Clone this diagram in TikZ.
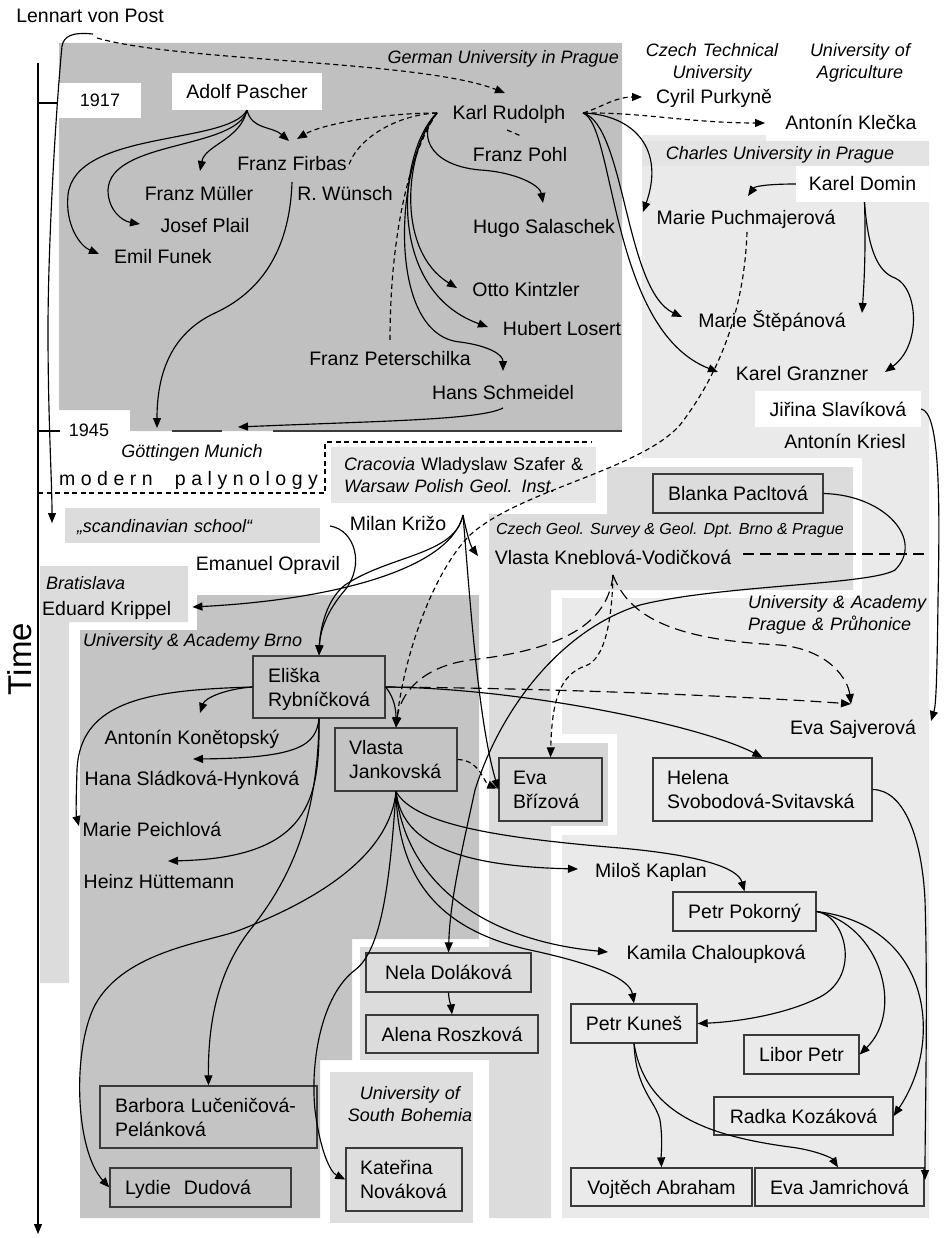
\documentclass[tikz,border=0pt]{standalone}
\usepackage{fontspec}
\setmainfont{Liberation Sans}
\usetikzlibrary{arrows.meta,calc}
\definecolor{gA}{HTML}{C0C0C0}
\definecolor{gD}{HTML}{C4C4C4}
\definecolor{gC}{HTML}{DCDCDC}
\definecolor{gB}{HTML}{EAEAEA}
\definecolor{gBand}{HTML}{E3E3E3}
\definecolor{gCr}{HTML}{E6E6E6}
\definecolor{gS}{HTML}{DEDEDE}
\definecolor{gE}{HTML}{D6D6D6}
\definecolor{bxc}{HTML}{3A3A3A}
\newcommand\mynm{\fontsize{19.5}{24}\selectfont}
\newcommand\myit{\fontsize{18}{22}\selectfont\itshape}
\newcommand\myrg{\fontsize{18}{22}\selectfont}
\newcommand\mysmit{\fontsize{16}{19}\selectfont\itshape}
\begin{document}
\begin{tikzpicture}[x=1pt,y=-1pt,
 nm/.style={font=\mynm, inner sep=1pt, text height=14pt, text depth=0pt},
 lab/.style={font=\myit, inner sep=1pt, text height=13pt, text depth=0pt},
 lab2/.style={font=\myit, inner sep=0pt, align=center, text height=13pt, text depth=22pt},
 pb/.style={draw=bxc, line width=1.3pt, inner sep=0pt, font=\mynm, text height=14pt, text depth=0pt},
 pbt/.style={pb, align=left, text depth=24pt},
 ln/.style={line width=1.15pt},
 ar/.style={ln, -{Triangle[length=10pt,width=8pt]}},
 sd/.style={dash pattern=on 5pt off 3.5pt},
 ld/.style={dash pattern=on 11pt off 6pt},
]
\useasboundingbox (0,0) rectangle (947,1238);
\fill[white] (0,0) rectangle (947,1238);
% ---------- regions ----------
\fill[gA] (59,43) -- (622,43) -- (622,431) -- (130,431) -- (130,410) -- (59,410) -- cycle;
\fill[gB] (642,135) -- (766,135) -- (766,141) -- (929,141) -- (929,1218) -- (562,1218) -- (562,835) -- (617,835) -- (617,734) -- (562,734) -- (562,598) -- (862,598) -- (862,458) -- (642,458) -- cycle;
\fill[gBand] (642,141) rectangle (929,166);
\fill[gC] (489,514) -- (607,514) -- (607,467) -- (853,467) -- (853,590) -- (551,590) -- (551,1218) -- (489,1218) -- (489,1060) -- (360,1060) -- (360,947) -- (489,947) -- cycle;
\fill[gE] (551,743) rectangle (608,826);
\fill[gD] (197,595) -- (479,595) -- (479,939) -- (352,939) -- (352,1060) -- (320,1060) -- (320,1218) -- (80,1218) -- (80,630) -- (197,630) -- cycle;
\fill[gC] (40,566) -- (188,566) -- (188,622) -- (69,622) -- (69,983) -- (40,983) -- cycle;
\fill[gS] (330,1072) rectangle (473,1223);
% ---------- axis ----------
\coordinate (tTop) at (38,63);
\coordinate (tBot) at (38,1234);
\draw[ar] (tTop) -- (tBot);
\draw[ln] (38,103) -- (58,103);
\draw[ln] (38,431) -- (60,431);
\draw[ln, draw=bxc] (172,431) -- (222,431);
\draw[ln, draw=bxc] (273,431) -- (622,431);
\coordinate (dA) at (38,493);
\coordinate (dB) at (325,493);
\coordinate (dC) at (325,442);
\coordinate (dD) at (592,442);
\draw[ln,sd] (dA) -- (dB) -- (dC) -- (dD);
% ---------- nodes ----------
\node[font=\fontsize{33}{36}\selectfont, rotate=90, inner sep=0pt] (time) at (20,659) {Time};
\node[nm] (lennart) at (90,16) {Lennart von Post};
\node[font=\myrg, fill=white, inner sep=0pt, minimum width=82pt, minimum height=35pt, text height=13pt, text depth=0pt] (y1917) at (100,100.5) {1917};
\node[nm, fill=white, inner sep=0pt, minimum width=150pt, minimum height=37pt] (pascher) at (247,91.5) {Adolf Pascher};
\node[lab, anchor=east] (german) at (620,57) {German University in Prague};
\node[nm] (firbas) at (292,164) {Franz Firbas};
\node[nm] (muller) at (199,194) {Franz Müller};
\node[nm] (wunsch) at (345,194) {R. Wünsch};
\node[nm] (plail) at (205,226) {Josef Plail};
\node[nm] (funek) at (163,257) {Emil Funek};
\node[nm] (rudolph) at (509,113) {Karl Rudolph};
\node[nm] (pohl) at (520,155) {Franz Pohl};
\node[nm] (salaschek) at (544,227) {Hugo Salaschek};
\node[nm] (kintzler) at (526,289) {Otto Kintzler};
\node[nm] (losert) at (562,328) {Hubert Losert};
\node[nm] (peterschilka) at (390,358) {Franz Peterschilka};
\node[nm] (schmeidel) at (503,392) {Hans Schmeidel};
\node[font=\myrg, inner sep=1pt, text height=13pt, text depth=0pt] (y1945) at (89,430) {1945};
\node[lab] (gottingen) at (192,451) {Göttingen Munich};
\node[nm] (modern) at (188.5,478) {\makebox[259pt][s]{m\hfil o\hfil d\hfil e\hfil r\hfil n\hfil\hfil\hfil\hfil p\hfil a\hfil l\hfil y\hfil n\hfil o\hfil l\hfil o\hfil g\hfil y}};
\node[font=\myrg, fill=gCr, inner sep=0pt, minimum width=265pt, minimum height=56pt, text width=239pt, align=left, text height=13pt, text depth=22pt] (cracovia) at (463.5,475) {\mbox{\textit{Cracovia} Wladyslaw Szafer \&}\\\mbox{\textit{Warsaw Polish Geol. Inst.}}};
\node[font=\myit, fill=gC, inner sep=0pt, minimum width=255pt, minimum height=35pt, text width=231pt, align=left, text height=13pt, text depth=0pt] (scand) at (192.5,525.5) {„scandinavian school“};
\node[nm] (krizo) at (398,523) {Milan Križo};
\node[nm] (opravil) at (268,563) {Emanuel Opravil};
\node[lab, anchor=west] (bratislava) at (45,583) {Bratislava};
\node[nm, anchor=west] (krippel) at (41,608) {Eduard Krippel};
\node[lab, anchor=west] (brno) at (82,640) {University \& Academy Brno};
\node[nm] (konet) at (192,737) {Antonín Konětopský};
\node[nm] (hana) at (192,778) {Hana Sládková-Hynková};
\node[nm] (peichl) at (152,829) {Marie Peichlová};
\node[nm] (heinz) at (159,881) {Heinz Hüttemann};
\node[lab2, text width=160pt] (cztech) at (712,61) {Czech Technical\\University};
\node[lab2, text width=140pt] (agri) at (860,61) {University of\\Agriculture};
\node[nm] (purkyne) at (714,97) {Cyril Purkyně};
\node[nm] (klecka) at (851,123) {Antonín Klečka};
\node[lab] (charles) at (780,153) {Charles University in Prague};
\node[nm, fill=white, inner sep=0pt, minimum width=133pt, minimum height=36pt] (domin) at (862.5,184) {Karel Domin};
\node[nm] (puchm) at (746,218) {Marie Puchmajerová};
\node[nm] (stepan) at (772,320) {Marie Štěpánová};
\node[nm] (granzner) at (802,373) {Karel Granzner};
\node[nm, fill=white, inner sep=0pt, minimum width=166pt, minimum height=36pt] (slavik) at (838,409) {Jiřina Slavíková};
\node[nm] (kriesl) at (845,441) {Antonín Kriesl};
\node[font=\mysmit, inner sep=1pt, text height=12pt, text depth=0pt] (geol) at (670,528) {Czech Geol. Survey \& Geol. Dpt. Brno \& Prague};
\node[nm] (kneblova) at (613,557) {Vlasta Kneblová-Vodičková};
\node[lab2, text width=190pt, align=left] (prague) at (843,613) {University \& Academy\\Prague \& Průhonice};
\node[nm] (sajver) at (853,727) {Eva Sajverová};
\node[nm] (kaplan) at (651,870) {Miloš Kaplan};
\node[nm] (kamila) at (716,952) {Kamila Chaloupková};
\node[lab2, text width=140pt] (southb) at (410,1104) {University of\\South Bohemia};
% boxes
\node[pb, minimum width=170pt, minimum height=39pt] (blanka) at (738,493.5) {Blanka Pacltová};
\node[pbt, minimum width=132pt, minimum height=62pt, text width=102pt] (eli) at (319,687) {Eliška\\Rybníčková};
\node[pbt, minimum width=122pt, minimum height=63pt, text width=94pt] (jank) at (396,759.5) {Vlasta\\Jankovská};
\node[pbt, fill=gE, minimum width=103pt, minimum height=63pt, text width=75pt] (briz) at (550.5,789.5) {Eva\\Břízová};
\node[pbt, minimum width=219pt, minimum height=63pt, text width=191pt] (helena) at (762.5,789.5) {Helena\\Svobodová-Svitavská};
\node[pb, minimum width=143pt, minimum height=39pt] (pokorny) at (744.5,911.5) {Petr Pokorný};
\node[pb, minimum width=165pt, minimum height=39pt] (nela) at (448.5,972.5) {Nela Doláková};
\node[pb, minimum width=172pt, minimum height=38pt] (alena) at (452,1034) {Alena Roszková};
\node[pbt, minimum width=217pt, minimum height=62pt, text width=187pt] (barbora) at (208.5,1117) {Barbora Lučeničová-\\Pelánková};
\node[pb, align=left, minimum width=181pt, minimum height=39pt, text width=151pt] (lydie) at (200.5,1187.5) {Lydie\ \ Dudová};
\node[pbt, minimum width=116pt, minimum height=63pt, text width=88pt] (kat) at (404,1179.5) {Kateřina\\Nováková};
\node[pb, minimum width=126pt, minimum height=39pt] (kunes) at (634,1023.5) {Petr Kuneš};
\node[pb, minimum width=115pt, minimum height=39pt] (libor) at (801.5,1054.5) {Libor Petr};
\node[pb, minimum width=179pt, minimum height=38pt] (radka) at (803.5,1116) {Radka Kozáková};
\node[pb, minimum width=181pt, minimum height=38pt] (vojtech) at (661.5,1187) {Vojtěch Abraham};
\node[pb, minimum width=169pt, minimum height=38pt] (jamr) at (839.5,1187) {Eva Jamrichová};
% ---------- connectors ----------
% Lennart
\draw[ar] ($(lennart)+(3,18)$) .. controls (72,32) and (64,36) .. (62,46) .. controls (55,120) and (48,250) .. (48,330) .. controls (48,420) and (52,480) .. ($(scand)+(-140.5,-2.5)$);
\draw[ar,sd] ($(lennart)+(7,22)$) .. controls (180,62) and (420,60) .. ($(rudolph)+(-4,-20)$);
% Pascher
\draw[ar] (pascher.south) .. controls (252,130) and (272,126) .. ($(firbas)+(-3,-23)$);
\draw[ar] (pascher.south) .. controls (240,140) and (205,145) .. ($(muller)+(1,-23)$);
\draw[ar] (pascher.south) .. controls (236,150) and (110,140) .. (108,190) .. controls (108,210) and (122,221) .. ($(plail)+(-65,-2)$);
\draw[ar] (pascher.south) .. controls (228,145) and (75,130) .. (68,195) .. controls (65,225) and (80,246) .. ($(funek)+(-64,-3)$);
\draw[ar] ($(firbas)+(0,18)$) .. controls (290,245) and (265,290) .. (215,313) .. controls (172,333) and (157,372) .. ($(gottingen)+(-35,-23)$);
% Rudolph left
\coordinate (rL) at ($(rudolph)+(-72,0)$);
\draw[ar,sd] (rL) .. controls (380,113) and (320,125) .. ($(firbas)+(5,-25)$);
\draw[ln,sd] (rL) .. controls (395,115) and (355,140) .. ($(wunsch)+(3,-26)$);
\draw[ar] (rL) .. controls (418,130) and (425,165) .. (480,170) .. controls (515,172) and (540,185) .. ($(salaschek)+(-1,-24)$);
\draw[ar] (rL) .. controls (405,150) and (395,250) .. ($(kintzler)+(-69,-1)$);
\draw[ar] (rL) .. controls (398,150) and (385,290) .. ($(losert)+(-74,-1)$);
\draw[ar] (rL) .. controls (395,160) and (385,335) .. (460,342) .. controls (490,346) and (503,355) .. ($(schmeidel)+(0,-21)$);
\draw[ln,sd] (rL) .. controls (405,160) and (390,250) .. ($(peterschilka)+(0,-18)$);
\draw[ln,sd] ($(rudolph)+(-2,17)$) -- ($(pohl)+(1,-19)$);
\draw[ar] ($(schmeidel)+(0,16)$) .. controls (480,420) and (380,421) .. ($(gottingen)+(46,-24)$);
% Rudolph right
\coordinate (rR) at ($(rudolph)+(74,0)$);
\draw[ar,sd] (rR) .. controls (600,108) and (615,97) .. ($(purkyne)+(-72,0)$);
\draw[ar,sd] (rR) .. controls (640,112) and (690,123) .. ($(klecka)+(-86,0)$);
\draw[ar] (rR) .. controls (635,115) and (665,150) .. ($(puchm)+(-103,-6)$);
\draw[ar] (rR) .. controls (625,125) and (625,290) .. ($(stepan)+(-90,-3)$);
\draw[ar] (rR) .. controls (615,125) and (610,330) .. ($(granzner)+(-84,-1)$);
% Domin
\draw[ar] (domin.west) .. controls (770,184) and (755,186) .. ($(puchm)+(2,-22)$);
\draw[ar] ($(domin.south)+(2,0)$) .. controls (866,250) and (864,285) .. ($(stepan)+(90,-7)$);
\draw[ar] ($(domin.south)+(2,0)$) .. controls (868,250) and (878,272) .. (895,278) .. controls (918,288) and (922,345) .. ($(granzner)+(83,-1)$);
% Puchmajerova dashed
\draw[ar,sd] ($(puchm)+(1,14)$) .. controls (745,290) and (730,360) .. (680,425) .. controls (640,470) and (520,490) .. (470,535) .. controls (435,570) and (405,650) .. (jank.north);
% scandinavian -> Eliska
\draw[ar] ($(scand)+(137.5,0.5)$) .. controls (355,530) and (365,565) .. (345,590) .. controls (326,612) and (320,632) .. (eli.north);
% Krizo
\coordinate (kz) at ($(krizo)+(65,-8)$);
\draw[ar] (kz) .. controls (450,570) and (330,600) .. ($(krippel.east)+(20,-1)$);
\draw[ar] (kz) .. controls (455,555) and (390,555) .. (345,585) .. controls (326,600) and (320,630) .. (eli.north);
\draw[ar] (kz) .. controls (466,530) and (470,545) .. ($(kneblova)+(-135,-1)$);
\draw[ar] (kz) .. controls (470,600) and (478,720) .. (briz.west);
% Eliska
\draw[ar] (eli.west) .. controls (225,689) and (205,698) .. ($(konet)+(8,-24)$);
\draw[ar] (eli.west) .. controls (150,690) and (80,700) .. (77,770) .. controls (76,800) and (76,815) .. ($(peichl)+(-73,-3)$);
\draw[ar] (eli.south) .. controls (316,745) and (300,758) .. ($(hana)+(1,-19)$);
\draw[ar] (eli.south) .. controls (320,800) and (310,858) .. ($(heinz)+(9,-20)$);
\draw[ar] (eli.south) .. controls (318,820) and (290,880) .. (250,930) .. controls (215,975) and (208,1030) .. (barbora.north);
\draw[ar,ld] (eli.east) .. controls (550,688) and (760,697) .. ($(sajver)+(-2,-23)$);
\draw[ar] (eli.east) .. controls (520,688) and (700,725) .. (helena.north);
\draw[ar] (eli.east) .. controls (392,695) and (396,705) .. (jank.north);
% Kneblova
\coordinate (kn) at ($(kneblova)+(0,18)$);
\draw[ar,ld] (kn) .. controls (608,625) and (560,650) .. (470,660) .. controls (420,667) and (400,695) .. (jank.north);
\draw[ar,sd] (kn) .. controls (612,620) and (605,660) .. (585,666) .. controls (560,675) and (552,700) .. (briz.north);
\draw[ar,ld] (kn) .. controls (630,620) and (680,640) .. (780,645) .. controls (830,650) and (848,680) .. ($(sajver)+(-2,-23)$);
\draw[ln,ld] ($(kneblova)+(130,-3)$) -- ($(kneblova)+(317,-3)$);
% Blanka -> Nela
\draw[ar] (blanka.east) .. controls (885,495) and (925,540) .. (895,570) .. controls (870,585) and (720,585) .. (640,605) .. controls (560,630) and (500,710) .. (475,790) .. controls (462,850) and (450,900) .. (nela.north);
% Slavikova -> Sajverova
\draw[ar] (slavik.east) .. controls (940,412) and (940,500) .. (938,600) .. controls (937,680) and (936,705) .. ($(sajver)+(78,-6)$);
% Jankovska -> Brizova
\draw[ar,sd] (jank.east) .. controls (480,760) and (484,783) .. ($(briz.west)+(-1,-1)$);
% Helena -> Jamrichova
\draw[ar] (helena.east) .. controls (905,790) and (922,840) .. (925,900) .. controls (928,1000) and (925,1120) .. ($(jamr)+(85.5,-7)$);
% Jankovska fan
\draw[ar] (jank.south) .. controls (390,850) and (330,895) .. (240,930) .. controls (210,942) and (125,950) .. (95,1005) .. controls (72,1050) and (75,1150) .. (lydie.west);
\draw[ar] (jank.south) .. controls (390,880) and (382,950) .. (355,970) .. controls (322,995) and (310,1060) .. (315,1110) .. controls (320,1150) and (330,1172) .. (kat.west);
\draw[ar] (jank.south) .. controls (402,840) and (450,866) .. ($(kaplan)+(-73,-1)$);
\draw[ar] (jank.south) .. controls (415,825) and (500,838) .. (620,848) .. controls (700,855) and (738,868) .. (pokorny.north);
\draw[ar] (jank.south) .. controls (405,880) and (480,940) .. ($(kamila)+(-108,0)$);
\draw[ar] (jank.south) .. controls (398,880) and (440,930) .. (530,950) .. controls (600,965) and (630,980) .. (kunes.north);
% Pokorny
\draw[ar] (pokorny.east) .. controls (845,915) and (862,975) .. (820,997) .. controls (785,1015) and (735,1022) .. (kunes.east);
\draw[ar] (pokorny.east) .. controls (880,925) and (905,1010) .. (libor.east);
\draw[ar] (pokorny.east) .. controls (930,925) and (945,1040) .. (radka.east);
% Kunes
\draw[ar] (kunes.south) .. controls (636,1090) and (655,1100) .. (660,1120) .. controls (663,1140) and (661,1155) .. (vojtech.north);
\draw[ar] (kunes.south) .. controls (645,1110) and (700,1135) .. (790,1147) .. controls (815,1150) and (832,1158) .. ($(jamr.north)+(-1.5,0)$);
% Nela -> Alena
\draw[ar] (nela.south) .. controls (449,1002) and (451,1005) .. (alena.north);
\end{tikzpicture}
\end{document}
